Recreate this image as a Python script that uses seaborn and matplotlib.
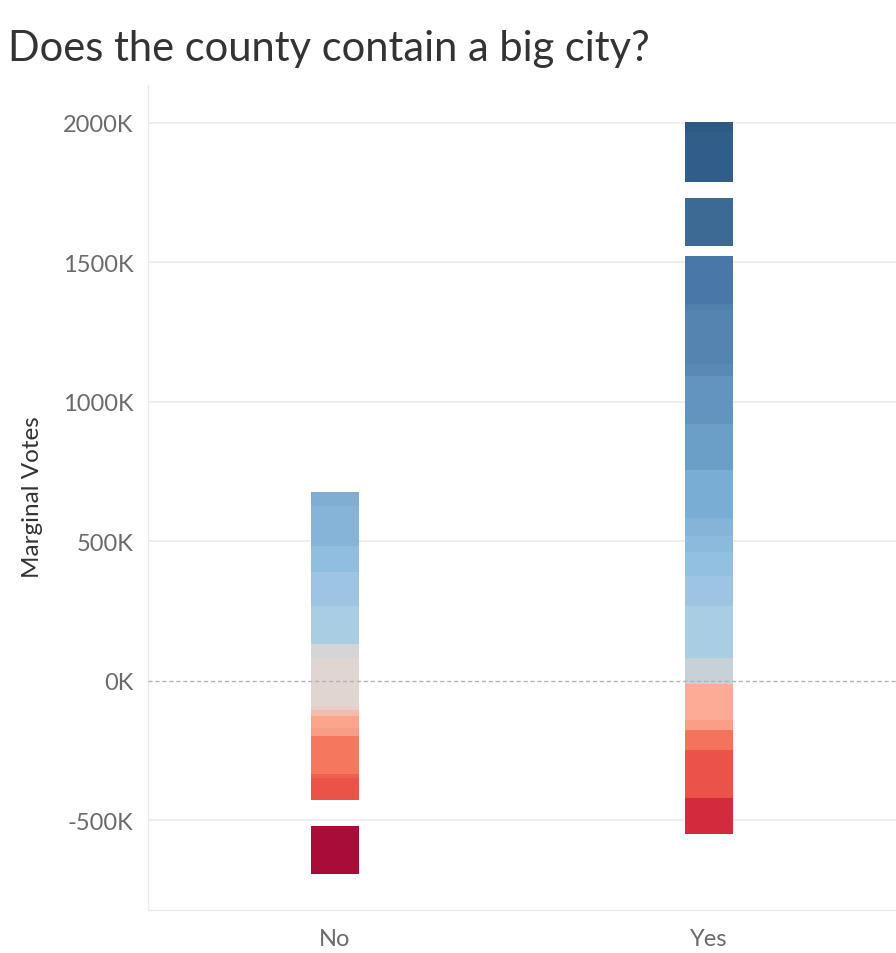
import numpy as np
import pandas as pd
import matplotlib
matplotlib.use("Agg")
import matplotlib.pyplot as plt
import seaborn as sns
from matplotlib.ticker import FixedLocator, FuncFormatter

# ---------------- data (thousands of marginal votes) ----------------
categories = ["No", "Yes"]

no_start = -691
no_heights = [171, 94, 79, 14, 135, 29, 43, 21.5, 14, 171, 51, 136, 123, 92, 143, 50]
no_colors = ["#a90c38", None, "#eb5248", "#ef6050", "#f4775e", "#f99d86", "#fca58d",
             "#f2bdb0", "#e8cdc8", "#e1d5d2", "#d5d5d8", "#a9cde3", "#9ec4e3",
             "#90bee0", "#86b4d8", "#80aed3"]

yes_start = -548
yes_heights = [129, 172, 72, 36, 129, 93, 186, 107.5, 86, 57, 64.5, 172, 165, 172,
               43, 193.5, 21.6, 172, 36, 172, 57, 179, 36]
yes_colors = ["#d42a3e", "#eb5249", "#f4735c", "#fa9e88", "#fdab97", "#c6d1d8",
              "#a9cde3", "#9ec4e3", "#92c0e0", "#8bbadc", "#86b4d8", "#7aadd3",
              "#6c9fc8", "#6394c0", "#5a89b5", "#5584b0", "#5180ac", "#4a78a6",
              None, "#3d6a95", None, "#305d8a", "#2e5985"]

y_ticks = [-500, 0, 500, 1000, 1500, 2000]
title = "Does the county contain a big city?"
y_label = "Marginal Votes"

# ---------------- build long table ----------------
rows = []
for cat, start, heights, colors in [("No", no_start, no_heights, no_colors),
                                    ("Yes", yes_start, yes_heights, yes_colors)]:
    bottoms = start + np.concatenate([[0], np.cumsum(heights)[:-1]])
    for h, b, c in zip(heights, bottoms, colors):
        rows.append(dict(category=cat, height=h, bottom=b, color=c))
df = pd.DataFrame(rows)

# ---------------- figure ----------------
sns.set_theme(style="white")
plt.rcParams["font.family"] = ["Lato", "DejaVu Sans"]

W, H = 896, 954
fig = plt.figure(figsize=(W / 100, H / 100), dpi=100)
ax = fig.add_axes([148 / W, 1 - 911 / H, 748 / W, 825 / H])

for _, r in df.iterrows():
    if r["color"] is None:
        continue
    sns.barplot(data=pd.DataFrame([r]), x="category", y="height", order=categories,
                bottom=r["bottom"], color=r["color"], saturation=1, width=0.128,
                errorbar=None, linewidth=0, ax=ax, zorder=3)

ax.set_xlim(-0.5, 1.5)
ax.set_ylim(-821, 2136)

# grid
for v in y_ticks:
    if v == 0:
        ax.axhline(0, color="#b3b3b3", lw=1.0, ls=(0, (3, 2)), zorder=4)
    else:
        ax.axhline(v, color="#eeeeee", lw=1.4, zorder=1)

ax.yaxis.set_major_locator(FixedLocator(y_ticks))
ax.yaxis.set_major_formatter(FuncFormatter(lambda v, p: f"{int(v)}K"))
ax.tick_params(axis="y", length=0, pad=10.5, labelsize=17, labelcolor="#6a6a6a")
ax.tick_params(axis="x", which="major", length=0, pad=13, labelsize=17, labelcolor="#6a6a6a")
ax.set_xticks([-0.5, 0.5, 1.5], minor=True)
ax.tick_params(axis="x", which="minor", length=7, width=1, color="#e6e6e6")

for s in ["top", "right"]:
    ax.spines[s].set_visible(False)
for s in ["left", "bottom"]:
    ax.spines[s].set_color("#ebebeb")
    ax.spines[s].set_linewidth(1)

ax.set_xlabel("")
ax.set_ylabel(y_label, fontsize=17.5, color="#333333")
ax.yaxis.set_label_coords(-0.14, 0.502)

fig.text(8 / W, 1 - 61 / H, title, fontsize=30, color="#333333",
         fontweight="normal", ha="left", va="baseline")

fig.savefig("out.png", dpi=100)
